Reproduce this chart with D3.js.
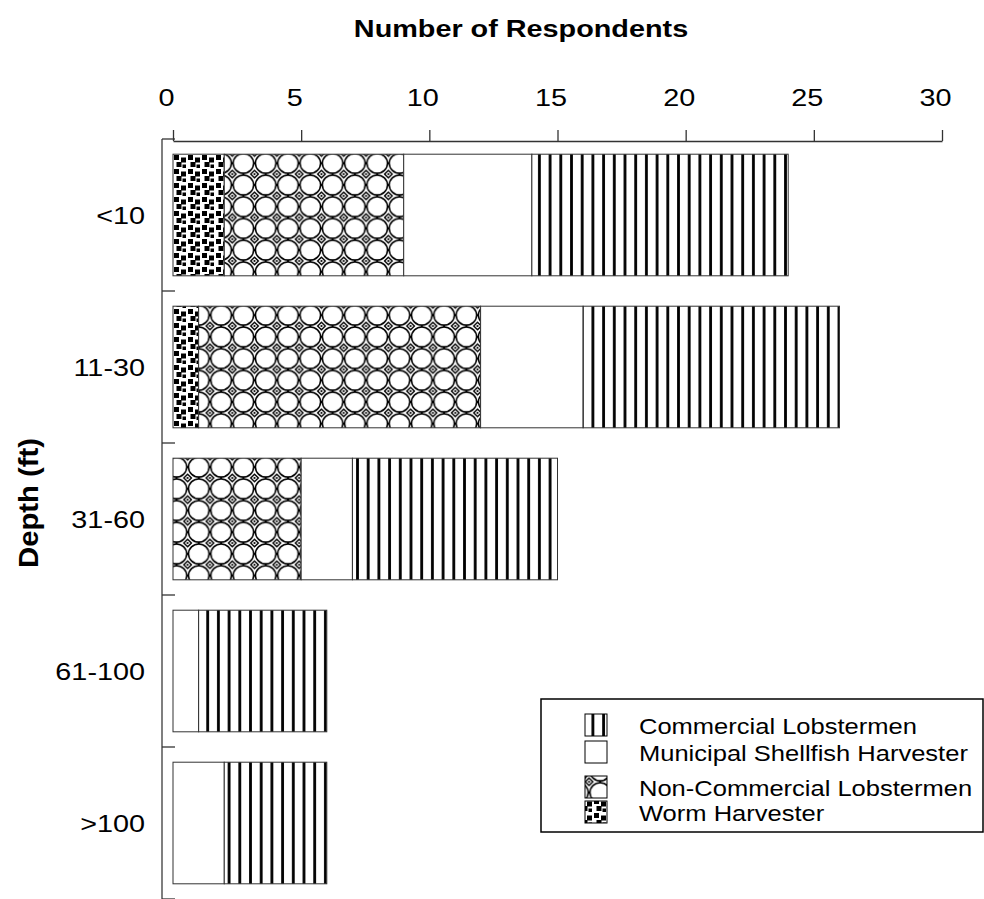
<!DOCTYPE html>
<html>
<head>
<meta charset="utf-8">
<script src="https://cdn.jsdelivr.net/npm/d3@7"></script>
<style>
  body { margin: 0; background: #fff; }
  text { font-family: "Liberation Sans", Arial, sans-serif; fill: #000; }
</style>
</head>
<body>
<div id="chart"></div>
<script>
// depth classes and respondents per group
const depths = ["<10", "11-30", "31-60", "61-100", ">100"];
const worm = [2, 1, 0, 0, 0];
const nonCommercial = [7, 11, 5, 0, 0];
const municipal = [5, 4, 2, 1, 2];
const commercial = [10, 10, 8, 5, 4];
const xTicks = [0, 5, 10, 15, 20, 25, 30];

const keys = ["worm", "nonCommercial", "municipal", "commercial"];
const rows = depths.map((d, i) => ({
  depth: d,
  worm: worm[i],
  nonCommercial: nonCommercial[i],
  municipal: municipal[i],
  commercial: commercial[i]
}));

const width = 984, height = 899;
const sx = 1.2; // the original lettering is drawn wide

const svg = d3.select("#chart").append("svg")
  .attr("width", width)
  .attr("height", height);

// patterns
const defs = svg.append("defs");

const pc = defs.append("pattern")
  .attr("id", "pat-commercial")
  .attr("patternUnits", "userSpaceOnUse")
  .attr("width", 10.7).attr("height", 20);
pc.append("rect").attr("width", 10.7).attr("height", 20).attr("fill", "#fff");
pc.append("rect").attr("x", 3).attr("width", 2.8).attr("height", 20).attr("fill", "#000");

// circles lattice with small diamond nodes
const pw = 22.3, ph = 21.7;
const pn = defs.append("pattern")
  .attr("id", "pat-noncommercial")
  .attr("patternUnits", "userSpaceOnUse")
  .attr("width", pw).attr("height", ph)
  .attr("x", 176.5).attr("y", 141.6);
pn.append("rect").attr("width", pw).attr("height", ph).attr("fill", "#fff");
[[0, 0], [pw, 0], [0, ph], [pw, ph]].forEach(c => {
  pn.append("ellipse").attr("cx", c[0]).attr("cy", c[1])
    .attr("rx", pw / 2 - 0.9).attr("ry", ph / 2 - 0.9)
    .attr("fill", "none").attr("stroke", "#000").attr("stroke-width", 1.5);
});
[[pw / 2, 0], [pw / 2, ph], [0, ph / 2], [pw, ph / 2]].forEach(c => {
  pn.append("circle").attr("cx", c[0]).attr("cy", c[1]).attr("r", 1.2).attr("fill", "#000");
});
const h = 3.8;
pn.append("path")
  .attr("d", `M${pw / 2},${ph / 2 - h}L${pw / 2 + h},${ph / 2}L${pw / 2},${ph / 2 + h}L${pw / 2 - h},${ph / 2}Z`)
  .attr("fill", "#fff").attr("stroke", "#000").attr("stroke-width", 1.4);
pn.append("circle").attr("cx", pw / 2).attr("cy", ph / 2).attr("r", 1.1).attr("fill", "#000");

const pwm = defs.append("pattern")
  .attr("id", "pat-worm")
  .attr("patternUnits", "userSpaceOnUse")
  .attr("width", 14).attr("height", 14)
  .attr("x", 173).attr("y", 154);
pwm.append("rect").attr("width", 14).attr("height", 14).attr("fill", "#fff");
[[1, 1, 5], [8, 3.5, 5], [3.5, 8, 5], [9.5, 10.5, 3.5]].forEach(s => {
  pwm.append("rect").attr("x", s[0]).attr("y", s[1]).attr("width", s[2]).attr("height", s[2]).attr("fill", "#000");
});

const fills = {
  worm: "url(#pat-worm)",
  nonCommercial: "url(#pat-noncommercial)",
  municipal: "#fff",
  commercial: "url(#pat-commercial)"
};

// scales
const x = d3.scaleLinear().domain([0, 30]).range([173, 942]);
const y = d3.scaleBand().domain(depths).range([139, 899])
  .paddingInner(0.2).paddingOuter(0.1);

// bars
const stacked = d3.stack().keys(keys)(rows);
svg.append("g").selectAll("g")
  .data(stacked)
  .enter().append("g")
  .attr("fill", d => fills[d.key])
  .selectAll("rect")
  .data(d => d.filter(s => s[1] - s[0] > 0))
  .enter().append("rect")
  .attr("x", d => x(d[0]))
  .attr("y", d => y(d.data.depth))
  .attr("width", d => x(d[1]) - x(d[0]))
  .attr("height", y.bandwidth())
  .attr("stroke", "#333")
  .attr("stroke-width", 1);

// top axis
const xAxis = svg.append("g")
  .attr("transform", "translate(0,141)")
  .call(d3.axisTop(x).tickValues(xTicks).tickSize(11).tickSizeOuter(0).tickPadding(24));
xAxis.select(".domain").attr("stroke", "#333").attr("stroke-width", 1.3);
xAxis.selectAll(".tick line").attr("stroke", "#333").attr("stroke-width", 1.3);
xAxis.selectAll(".tick text")
  .attr("font-size", 24)
  .attr("font-family", "Liberation Sans, Arial, sans-serif")
  .attr("dx", -7 / sx)
  .attr("transform", `scale(${sx},1)`);

// left axis
const step = y.step();
const edges = depths.map(d => y(d) - step * y.paddingInner() / 2).concat([899]);
const yAxis = svg.append("g");
yAxis.append("line")
  .attr("x1", 162).attr("x2", 162)
  .attr("y1", 139).attr("y2", 899)
  .attr("stroke", "#555").attr("stroke-width", 1.5);
yAxis.selectAll(".tk")
  .data(edges)
  .enter().append("line")
  .attr("class", "tk")
  .attr("x1", 162).attr("x2", 175)
  .attr("y1", d => d).attr("y2", d => d)
  .attr("stroke", "#333").attr("stroke-width", 1.3);
yAxis.selectAll(".lbl")
  .data(depths)
  .enter().append("text")
  .attr("class", "lbl")
  .attr("transform", d => `translate(145,${y(d) + y.bandwidth() / 2}) scale(${sx},1)`)
  .attr("text-anchor", "end")
  .attr("dy", "0.36em")
  .attr("font-size", 24)
  .text(d => d);

// titles
svg.append("text")
  .attr("transform", `translate(521,37) scale(${sx},1)`)
  .attr("text-anchor", "middle")
  .attr("font-size", 24)
  .attr("font-weight", "bold")
  .text("Number of Respondents");

svg.append("text")
  .attr("transform", "translate(38,503) rotate(-90)")
  .attr("text-anchor", "middle")
  .attr("font-size", 28)
  .attr("font-weight", "bold")
  .attr("textLength", 130)
  .attr("lengthAdjust", "spacingAndGlyphs")
  .text("Depth (ft)");

// legend
const legendItems = [
  { key: "commercial", label: "Commercial Lobstermen", base: 734 },
  { key: "municipal", label: "Municipal Shellfish Harvester", base: 761 },
  { key: "nonCommercial", label: "Non-Commercial Lobstermen", base: 796 },
  { key: "worm", label: "Worm Harvester", base: 821 }
];
const legend = svg.append("g");
legend.append("rect")
  .attr("x", 541).attr("y", 699)
  .attr("width", 442).attr("height", 133)
  .attr("fill", "#fff").attr("stroke", "#000").attr("stroke-width", 1.5);
legend.selectAll(".sw")
  .data(legendItems)
  .enter().append("rect")
  .attr("class", "sw")
  .attr("x", 585)
  .attr("y", d => d.base - 20)
  .attr("width", 22).attr("height", 22)
  .attr("fill", d => fills[d.key])
  .attr("stroke", "#000").attr("stroke-width", 1);
legend.selectAll(".lt")
  .data(legendItems)
  .enter().append("text")
  .attr("class", "lt")
  .attr("transform", d => `translate(639,${d.base}) scale(1.16,1)`)
  .attr("font-size", 22)
  .text(d => d.label);
</script>
</body>
</html>
